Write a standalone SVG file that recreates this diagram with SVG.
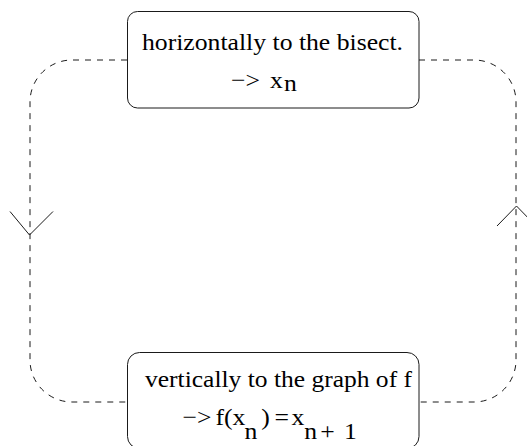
<svg xmlns="http://www.w3.org/2000/svg" width="527" height="446" viewBox="0 0 527 446">
  <style>
    .box { fill: #ffffff; stroke: #1a1a1a; stroke-width: 1; }
    .conn { fill: none; stroke: #1a1a1a; stroke-width: 1; stroke-dasharray: 6 6; }
    .head { fill: none; stroke: #1a1a1a; stroke-width: 1; }
    .t { font-family: "Liberation Serif", "Times New Roman", serif; font-size: 24px; fill: #000000; }
  </style>
  <rect width="527" height="446" fill="#ffffff"/>
  <g id="connectors">
    <path class="conn" d="M127,60 H72 A42,42 0 0 0 30,102 V360 A42,42 0 0 0 72,402 H127"/>
    <path class="conn" d="M419,60 H474 A42,42 0 0 1 516,102 V360 A42,42 0 0 1 474,402 H419"/>
    <polyline class="head" points="10,211.5 29.5,235 53,211.5"/>
    <polyline class="head" points="497,226 516.5,206 536,226"/>
  </g>
  <g id="node-top">
    <rect class="box" x="127.5" y="11.5" width="291.5" height="96.5" rx="10" ry="10"/>
    <text class="t" x="142" y="49.5" textLength="261" lengthAdjust="spacingAndGlyphs">horizontally to the bisect.</text>
    <text class="t" transform="scale(1.07 1)"><tspan x="216" y="88">−&gt;</tspan><tspan x="252.3" y="88">x</tspan><tspan x="265.4" y="91">n</tspan></text>
  </g>
  <g id="node-bottom">
    <rect class="box" x="127.5" y="352.5" width="291.5" height="96" rx="12" ry="12"/>
    <text class="t" x="145" y="387" textLength="267" lengthAdjust="spacingAndGlyphs">vertically to the graph of f</text>
    <text class="t" transform="scale(1.07 1)"><tspan x="170.5" y="425">−&gt;</tspan><tspan x="201.4" y="425">f(x</tspan><tspan x="228.5" y="439">n</tspan><tspan x="244.2" y="425">)</tspan><tspan x="256.6" y="425">=</tspan><tspan x="272.4" y="425">x</tspan><tspan x="284.3" y="439">n</tspan><tspan x="299.2" y="439">+</tspan><tspan x="321.5" y="439">1</tspan></text>
  </g>
</svg>
